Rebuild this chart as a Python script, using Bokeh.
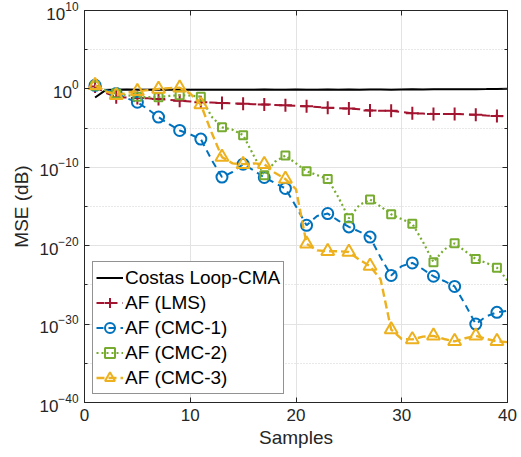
import numpy as np
from bokeh.plotting import figure
from bokeh.models import (FixedTicker, LogAxis, LinearAxis, Legend, LegendItem,
                          ColumnDataSource, Range1d)
from bokeh.embed import file_html
from bokeh.resources import INLINE

# ---- data (log10 of MSE), samples 1..40 ----
samples = list(range(1, 41))

costas_exp = [-1.1, -0.15, -0.1, -0.08, -0.1, -0.1, -0.08, -0.1, -0.12, -0.1,
              -0.12, -0.1, -0.1, -0.12, -0.1, -0.1, -0.08, -0.1, -0.1, -0.08,
              -0.1, -0.1, -0.08, -0.1, -0.08, -0.1, -0.08, -0.08, -0.1, -0.08,
              -0.06, -0.08, -0.06, -0.05, -0.05, -0.04, -0.03, -0.02, 0.0, 0.02]

lms_exp = [0.3, -0.5, -1.05, -1.1, -1.15, -1.2, -1.3, -1.4, -1.5, -1.6,
           -1.7, -1.75, -1.8, -1.85, -1.9, -1.95, -2.0, -2.05, -2.1, -2.15,
           -2.2, -2.3, -2.4, -2.45, -2.5, -2.6, -2.75, -2.8, -2.8, -2.95,
           -3.1, -3.15, -3.2, -3.2, -3.2, -3.25, -3.3, -3.4, -3.45, -3.5]

cmc1_exp = [0.45, -0.1, -0.6, -1.2, -1.7, -2.6, -3.6, -4.5, -5.3, -5.8,
            -6.4, -9.0, -11.25, -10.6, -9.6, -10.4, -11.3, -12.0, -12.7, -15.0,
            -17.4, -16.2, -15.9, -16.8, -17.6, -18.2, -18.9, -21.5, -23.8, -22.6,
            -22.2, -23.0, -23.9, -24.5, -25.2, -27.5, -30.0, -29.0, -28.5, -28.3]

cmc2_exp = [0.4, -0.2, -0.6, -0.8, -1.0, -1.05, -1.05, -0.9, -0.8, -0.85,
            -1.0, -3.5, -4.9, -5.2, -5.9, -8.5, -11.0, -9.3, -8.5, -9.5,
            -10.5, -11.0, -11.5, -13.8, -16.5, -14.8, -14.1, -15.0, -16.0, -16.6,
            -17.2, -19.5, -22.1, -20.5, -19.7, -20.7, -21.7, -22.2, -22.8, -24.4]

cmc3_exp = [0.45, -0.3, -0.8, -0.5, -0.3, -0.15, 0.0, 0.1, 0.15, -0.6,
            -2.0, -5.5, -8.7, -9.5, -9.6, -9.5, -9.6, -10.7, -11.5, -12.8,
            -19.75, -20.6, -20.7, -20.7, -20.8, -21.8, -22.6, -24.3, -30.7, -31.9,
            -31.95, -31.6, -31.5, -31.9, -32.2, -31.8, -31.5, -31.9, -32.2, -32.3]

x_ticks = [0, 10, 20, 30, 40]
y_major_exp = [-40, -30, -20, -10, 0, 10]
y_minor_exp = [-35, -25, -15, -5, 5]

labels = ["Costas Loop-CMA", "AF (LMS)", "AF (CMC-1)", "AF (CMC-2)", "AF (CMC-3)"]

# ---- figure ----
FONT = "Liberation Sans"
AX = "#262626"

p = figure(width=521, height=457, x_axis_type="linear", y_axis_type="log",
           x_range=Range1d(0, 40), y_range=Range1d(1e-40, 1e10),
           output_backend="svg", toolbar_location=None,
           min_border_left=84, min_border_right=14, min_border_top=10, min_border_bottom=55)
p.background_fill_color = "white"
p.border_fill_color = "white"
p.outline_line_color = AX
p.outline_line_width = 1

yt = FixedTicker(ticks=[10.0 ** e for e in y_major_exp], minor_ticks=[10.0 ** e for e in y_minor_exp])
xt = FixedTicker(ticks=x_ticks, minor_ticks=[])

for ax in p.yaxis:
    ax.ticker = yt
for ax in p.xaxis:
    ax.ticker = xt

def style_axis(ax, labels_on=True):
    ax.axis_line_color = AX
    ax.major_tick_line_color = AX
    ax.minor_tick_line_color = AX
    ax.major_tick_in = 5
    ax.major_tick_out = 0
    ax.minor_tick_in = 3
    ax.minor_tick_out = 0
    ax.major_label_text_font = FONT
    ax.major_label_text_font_size = "17px"
    ax.major_label_text_color = AX
    ax.axis_label_text_font = FONT
    ax.axis_label_text_font_size = "19px"
    ax.axis_label_text_font_style = "normal"
    ax.axis_label_text_color = AX
    if not labels_on:
        ax.major_label_text_font_size = "0px"
        ax.major_label_text_alpha = 0

style_axis(p.xaxis[0])
style_axis(p.yaxis[0])
p.xaxis[0].axis_label = "Samples"
p.yaxis[0].axis_label = "MSE (dB)"
p.xaxis[0].major_label_standoff = 6
p.yaxis[0].major_label_standoff = 6
p.xaxis[0].axis_label_standoff = 3
p.yaxis[0].axis_label_standoff = 4

ra = LogAxis(ticker=yt)
style_axis(ra, labels_on=False)
ra.major_label_standoff = 0
p.add_layout(ra, "right")
ta = LinearAxis(ticker=xt)
style_axis(ta, labels_on=False)
ta.major_label_standoff = 0
p.add_layout(ta, "above")
p.min_border_right = 14
p.min_border_top = 10

p.xgrid.grid_line_color = "#e3e3e3"
p.xgrid.grid_line_width = 1
p.ygrid.grid_line_color = "#e3e3e3"
p.ygrid.grid_line_width = 1
p.ygrid.minor_grid_line_color = "#d0d0d0"
p.ygrid.minor_grid_line_dash = "1 2"

# ---- series ----
series = [
    (costas_exp, "#000000", "solid", None, 2.0),
    (lms_exp, "#A2142F", "8 5", "cross", 2.0),
    (cmc1_exp, "#0072BD", "7 5", "circle", 2.0),
    (cmc2_exp, "#77AC30", "2 3", "square", 2.2),
    (cmc3_exp, "#EDB120", "8 4", "triangle", 2.4),
]
msize = {"cross": 13, "circle": 11, "square": 8, "triangle": 13}

items = []
for (ex, col, dash, mk, lw), lab in zip(series, labels):
    xs = np.array(samples, dtype=float)
    ys = 10.0 ** np.array(ex, dtype=float)
    src = ColumnDataSource(dict(x=xs, y=ys))
    r_line = p.line("x", "y", source=src, line_color=col, line_width=lw, line_dash=dash)
    rends = [r_line]
    if mk is not None:
        msrc = ColumnDataSource(dict(x=xs[::2], y=ys[::2]))
        r_m = p.scatter("x", "y", source=msrc, marker=mk, size=msize[mk],
                        line_color=col, line_width=2, fill_alpha=0)
        rends.append(r_m)
    items.append(LegendItem(label=lab, renderers=rends))

leg = Legend(items=items, location=(8, 8))
leg.label_text_font = FONT
leg.label_text_font_size = "19px"
leg.label_text_color = "#000000"
leg.glyph_width = 27
leg.glyph_height = 25
leg.label_height = 25
leg.label_standoff = 2
leg.spacing = 0
leg.padding = 3
leg.margin = 0
leg.border_line_color = AX
leg.border_line_width = 1
leg.background_fill_color = "white"
leg.background_fill_alpha = 1
p.add_layout(leg, "center")

open("out.html", "w").write(file_html(p, INLINE))
